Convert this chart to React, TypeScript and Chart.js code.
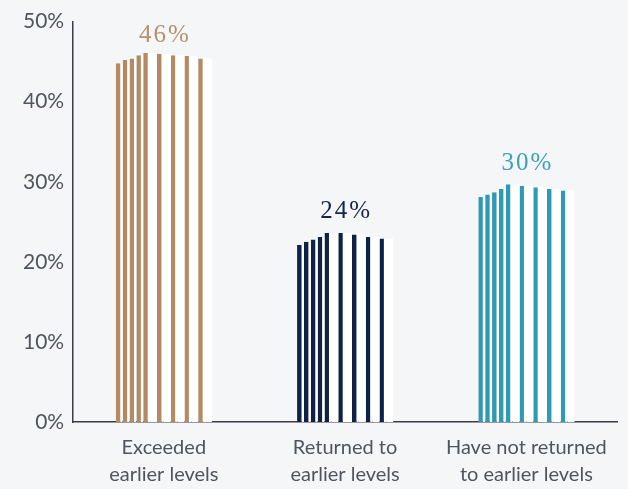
import React, { useEffect, useRef } from "react";
import { Chart, registerables } from "chart.js";

Chart.register(...registerables);

// ---- data ----
const categories: string[][] = [
  ["Exceeded", "earlier levels"],
  ["Returned to", "earlier levels"],
  ["Have not returned", "to earlier levels"],
];
const headlineValues = [46, 24, 30];
// stripe heights (%) read left-to-right inside each column
const exceededStripes = [44.8, 45.2, 45.4, 45.8, 46.1, 46.0, 45.8, 45.7, 45.4];
const returnedStripes = [22.1, 22.5, 22.8, 23.1, 23.6, 23.6, 23.4, 23.1, 22.9];
const notReturnedStripes = [28.1, 28.4, 28.7, 29.1, 29.7, 29.5, 29.3, 29.1, 28.9];
const yTicks = [0, 10, 20, 30, 40, 50];

const barColors = ["#b38a64", "#0f2246", "#2f9bb3"];
const labelColors = ["#b8916b", "#14264a", "#3aa2b9"];
const BG = "#f5f6f8";

// slot layout: stripe index per slot, or -1 for a white spacer slot
const slotPattern = [0, 1, 2, 3, 4, -1, 5, -1, 6, -1, 7, -1, 8, -1];

const allStripes = [exceededStripes, returnedStripes, notReturnedStripes];

export default function App() {
  const ref = useRef<HTMLCanvasElement>(null);

  useEffect(() => {
    document.body.style.margin = "0";
    document.body.style.background = BG;
    const canvas = ref.current;
    if (!canvas) return;

    const datasets: any[] = [];
    let lastStripe = 0;
    slotPattern.forEach((si) => {
      if (si >= 0) {
        lastStripe = si;
        datasets.push({
          data: allStripes.map((s) => s[si]),
          backgroundColor: barColors,
          borderColor: "#ffffff",
          borderWidth: { top: 0, left: 0, bottom: 0, right: 2.4 },
          borderSkipped: false,
          inflateAmount: 0,
          barPercentage: 1,
          categoryPercentage: 0.53,
        });
      } else {
        const prev = lastStripe;
        datasets.push({
          data: allStripes.map((s) => s[prev]),
          backgroundColor: "#ffffff",
          borderWidth: 0,
          inflateAmount: 0,
          barPercentage: 1,
          categoryPercentage: 0.53,
        });
      }
    });

    const headlinePlugin = {
      id: "headlines",
      afterDatasetsDraw(chart: any) {
        const { ctx } = chart;
        const xs = chart.scales.x;
        const ys = chart.scales.y;
        ctx.save();
        ctx.font = '25px "Liberation Serif", "DejaVu Serif", serif';
        (ctx as any).letterSpacing = "2px";
        ctx.textAlign = "center";
        ctx.textBaseline = "middle";
        headlineValues.forEach((v, i) => {
          ctx.fillStyle = labelColors[i];
          ctx.fillText(v + "%", xs.getPixelForValue(i) + 1, ys.getPixelForValue(v) - 18);
        });
        ctx.restore();
      },
    };

    const chart = new Chart(canvas, {
      type: "bar",
      data: { labels: categories as any, datasets },
      options: {
        animation: false,
        responsive: true,
        maintainAspectRatio: false,
        events: [],
        layout: { padding: { top: 10, right: 11, left: 14, bottom: 0 } },
        plugins: { legend: { display: false }, tooltip: { enabled: false } },
        scales: {
          x: {
            grid: { display: false, drawTicks: false },
            border: { display: true, color: "#3a3d44", width: 1.5 },
            afterFit: (scale: any) => {
              scale.height = 67;
            },
            ticks: {
              color: "#50555c",
              padding: 12,
              maxRotation: 0,
              font: { family: "Lato, 'Open Sans', sans-serif", size: 20, lineHeight: 1.35 },
            },
          },
          y: {
            min: 0,
            max: 50,
            afterBuildTicks: (scale: any) => {
              scale.ticks = yTicks.map((v) => ({ value: v }));
            },
            grid: { display: false, drawTicks: false },
            border: { display: true, color: "#3a3d44", width: 1.5 },
            ticks: {
              color: "#50555c",
              padding: 9,
              callback: (v: any) => v + "%",
              font: { family: "Lato, 'Open Sans', sans-serif", size: 21 },
            },
          },
        },
      },
      plugins: [headlinePlugin],
    });
    return () => chart.destroy();
  }, []);

  return (
    <div style={{ width: 628, height: 489, position: "relative", background: BG }}>
      <canvas ref={ref} />
    </div>
  );
}
